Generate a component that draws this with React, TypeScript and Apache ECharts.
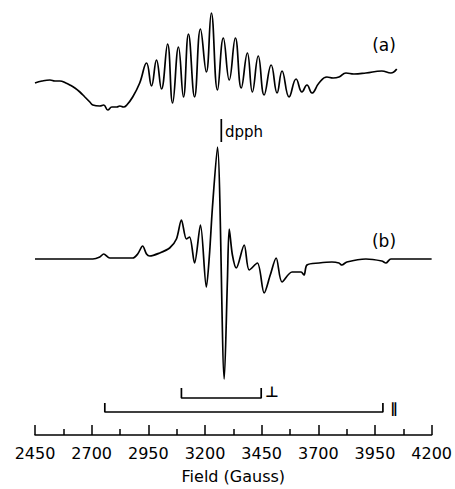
import React, { useEffect, useRef } from "react";
import * as echarts from "echarts";

// Field (Gauss) and intensity (arbitrary units) for trace (a)
const fieldA = [2450, 2481, 2516, 2538, 2560, 2586, 2604, 2626, 2648, 2670, 2692, 2705, 2736, 2753, 2771, 2789, 2811, 2824, 2841, 2855, 2881, 2912, 2942, 2964, 2986, 3008, 3035, 3057, 3083, 3105, 3127, 3154, 3180, 3206, 3228, 3255, 3281, 3307, 3334, 3360, 3387, 3409, 3435, 3461, 3492, 3518, 3540, 3571, 3602, 3628, 3650, 3672, 3703, 3738, 3765, 3791, 3822, 3857, 3910, 3980, 4020, 4046];
const traceA = [352, 354, 355, 354, 354, 352, 350, 347, 343, 338, 333, 330, 329, 330, 325, 328, 328, 329, 328, 330, 338, 352, 372, 349, 375, 346, 391, 332, 388, 338, 401, 338, 406, 363, 422, 345, 397, 355, 397, 347, 382, 343, 379, 340, 370, 342, 364, 338, 356, 343, 350, 342, 352, 358, 357, 358, 362, 361, 362, 364, 362, 366];

// Field (Gauss) and intensity for trace (b)
const fieldB = [2450, 2591, 2705, 2736, 2753, 2780, 2881, 2903, 2925, 2942, 2956, 3000, 3044, 3074, 3096, 3118, 3132, 3154, 3180, 3206, 3219, 3233, 3255, 3285, 3299, 3307, 3321, 3338, 3373, 3395, 3431, 3461, 3488, 3514, 3540, 3584, 3624, 3637, 3650, 3703, 3760, 3791, 3804, 3826, 3910, 3980, 3998, 4020, 4200];
const traceB = [176, 176, 176, 178, 181, 177, 177, 181, 189, 181, 179, 182, 187, 196, 215, 196, 198, 172, 210, 148, 178, 228, 288, 56, 155, 206, 180, 167, 190, 165, 172, 142, 160, 177, 153, 163, 163, 160, 170, 172, 173, 172, 170, 173, 176, 174, 172, 176, 176];

// dpph marker and hyperfine brackets
const dpphField = 3272;
const dpphRange = [293, 316];
const perpBracket = { from: 3096, to: 3448, top: 47, bottom: 37 };
const parBracket = { from: 2758, to: 3985, top: 32, bottom: 23 };

const xMin = 2450;
const xMax = 4200;
const xInterval = 250;

const FONT = "DejaVu Sans";

function zip(xs: number[], ys: number[]) {
  return xs.map((x, i) => [x, ys[i]]);
}

function bracket(b: { from: number; to: number; top: number; bottom: number }) {
  return [
    [b.from, b.top],
    [b.from, b.bottom],
    [b.to, b.bottom],
    [b.to, b.top],
  ];
}

export default function App() {
  const ref = useRef<HTMLDivElement>(null);
  useEffect(() => {
    if (!ref.current) return;
    const chart = echarts.init(ref.current, null, { renderer: "svg" });
    const lineStyle = { color: "#000", width: 1.7 };
    chart.setOption({
      animation: false,
      backgroundColor: "#fff",
      grid: { left: 35, right: 22, top: 0, bottom: 54 },
      xAxis: {
        type: "value",
        min: xMin,
        max: xMax,
        interval: xInterval,
        name: "Field (Gauss)",
        nameLocation: "middle",
        nameGap: 33,
        nameTextStyle: { fontFamily: FONT, fontSize: 16, color: "#000" },
        axisLine: { lineStyle: { color: "#000", width: 1.5 } },
        axisTick: { inside: true, length: 10, lineStyle: { color: "#000", width: 1.5 } },
        minorTick: { show: true, splitNumber: 2, length: 6, lineStyle: { color: "#000", width: 1.5 } },
        axisLabel: {
          fontFamily: FONT,
          fontSize: 16,
          color: "#000",
          margin: 10,
          formatter: (v: number) => String(v),
        },
        splitLine: { show: false },
        minorSplitLine: { show: false },
      },
      yAxis: {
        type: "value",
        min: 0,
        max: 435,
        show: false,
      },
      graphic: [
        { type: "text", x: 384, y: 45, style: { text: "(a)", fontFamily: FONT, fontSize: 17, fill: "#000", align: "center", verticalAlign: "middle" } },
        { type: "text", x: 384, y: 241, style: { text: "(b)", fontFamily: FONT, fontSize: 17, fill: "#000", align: "center", verticalAlign: "middle" } },
        { type: "text", x: 225, y: 132, style: { text: "dpph", fontFamily: FONT, fontSize: 15, fill: "#000", align: "left", verticalAlign: "middle" } },
        { type: "text", x: 272, y: 392, style: { text: "⊥", fontFamily: FONT, fontSize: 15, fontWeight: "bold", fill: "#000", align: "center", verticalAlign: "middle" } },
        { type: "text", x: 394, y: 408, style: { text: "∥", fontFamily: FONT, fontSize: 14, fontWeight: "bold", fill: "#000", align: "center", verticalAlign: "middle" } },
      ],
      series: [
        {
          name: "(a)",
          type: "line",
          data: zip(fieldA, traceA),
          showSymbol: false,
          smooth: 0.45,
          lineStyle,
        },
        {
          name: "(b)",
          type: "line",
          data: zip(fieldB, traceB),
          showSymbol: false,
          smooth: 0.3,
          lineStyle,
        },
        {
          name: "dpph",
          type: "line",
          data: [[dpphField, dpphRange[0]], [dpphField, dpphRange[1]]],
          showSymbol: false,
          lineStyle,
        },
        {
          name: "perp",
          type: "line",
          data: bracket(perpBracket),
          showSymbol: false,
          lineStyle,
        },
        {
          name: "par",
          type: "line",
          data: bracket(parBracket),
          showSymbol: false,
          lineStyle,
        },
      ],
    });
    return () => chart.dispose();
  }, []);
  return <div ref={ref} style={{ width: 455, height: 489, position: "absolute", left: 0, top: 0 }} />;
}
